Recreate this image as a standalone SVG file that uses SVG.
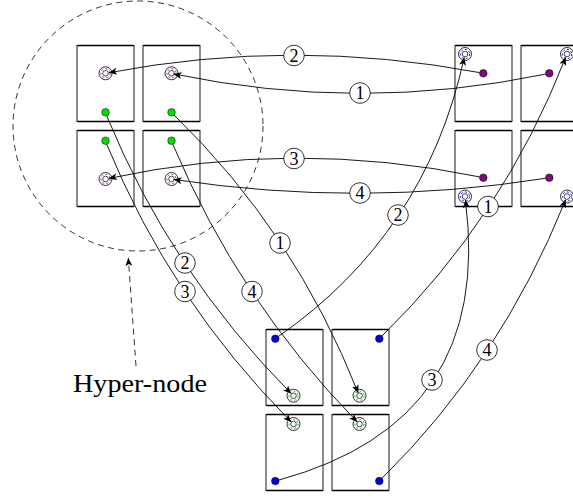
<svg xmlns="http://www.w3.org/2000/svg" width="573" height="498" viewBox="0 0 573 498">
<defs>
<style>
.box{fill:#fff;stroke:#000;stroke-width:0.9}
.edge{fill:none;stroke:#000;stroke-width:1.7;stroke-linecap:round}
.outer{fill:#fff;stroke:#000;stroke-width:0.8}
.inner{fill:#fff;stroke:#000;stroke-width:0.7}
.rv{fill:none;stroke:#a020a0;stroke-width:1;stroke-dasharray:2 2.2}
.rb{fill:none;stroke:#0000ff;stroke-width:1;stroke-dasharray:2 2.2}
.rg{fill:none;stroke:#00d000;stroke-width:1;stroke-dasharray:2 2.2}
.dg{fill:#00dd00;stroke:#000;stroke-width:0.5}
.dv{fill:#7a0a7a;stroke:#000;stroke-width:0.5}
.db{fill:#0000dd;stroke:#000;stroke-width:0.5}
.con{fill:none;stroke:#000;stroke-width:0.9;marker-end:url(#ah)}
.lbl circle{fill:#fff;stroke:#000;stroke-width:0.8}
.lbl text{font-family:"Liberation Serif","DejaVu Serif",serif;font-size:18px;text-anchor:middle}
.dash{fill:none;stroke:#000;stroke-width:0.8;stroke-dasharray:6 4.5}
</style>
<marker id="ah" markerUnits="userSpaceOnUse" markerWidth="10" markerHeight="8" refX="8" refY="3.5" orient="auto">
<path d="M0,0 L8,3.5 L0,7 L2,3.5 z" fill="#000"/>
</marker>
<g id="tgt"><circle class="outer" r="6.5"/><circle class="inner" r="2.8"/></g>
</defs>

<!-- hyper-node outline -->
<g id="hypernode">
<circle class="dash" cx="138" cy="126" r="125"/>
<path class="dash" d="M136,366 L128.3,258" marker-end="url(#ah)"/>
<text x="73" y="392" font-family="'Liberation Serif','DejaVu Serif',serif" font-size="25" textLength="134" lengthAdjust="spacingAndGlyphs">Hyper-node</text>
</g>

<!-- top-left cluster -->
<g id="tl1">
<rect class="box" x="77" y="45.5" width="57" height="76"/><path class="edge" d="M78,45.5H133M78,121.5H133"/>
<use href="#tgt" x="105.5" y="73.3"/><circle class="rv" cx="105.5" cy="73.3" r="4.6"/>
<circle class="dg" cx="105.5" cy="112.3" r="3.8"/>
</g>
<g id="tl2">
<rect class="box" x="143" y="45.5" width="57" height="76"/><path class="edge" d="M144,45.5H199M144,121.5H199"/>
<use href="#tgt" x="171.5" y="73.3"/><circle class="rv" cx="171.5" cy="73.3" r="4.6"/>
<circle class="dg" cx="171.5" cy="112.3" r="3.8"/>
</g>
<g id="tl3">
<rect class="box" x="77" y="130.5" width="57" height="76"/><path class="edge" d="M78,130.5H133M78,206.5H133"/>
<use href="#tgt" x="105.5" y="179"/><circle class="rv" cx="105.5" cy="179" r="4.6"/>
<circle class="dg" cx="105.5" cy="140.7" r="3.8"/>
</g>
<g id="tl4">
<rect class="box" x="143" y="130.5" width="57" height="76"/><path class="edge" d="M144,130.5H199M144,206.5H199"/>
<use href="#tgt" x="171.5" y="179"/><circle class="rv" cx="171.5" cy="179" r="4.6"/>
<circle class="dg" cx="171.5" cy="140.7" r="3.8"/>
</g>

<!-- top-right cluster -->
<g id="tr1">
<rect class="box" x="455" y="45.5" width="57" height="76"/><path class="edge" d="M456,45.5H511M456,121.5H511"/>
<use href="#tgt" x="465" y="54"/><circle class="rb" cx="465" cy="54" r="4.6"/>
<circle class="dv" cx="483.3" cy="73.3" r="3.8"/>
</g>
<g id="tr2">
<rect class="box" x="521" y="45.5" width="57" height="76"/><path class="edge" d="M522,45.5H577M522,121.5H577"/>
<use href="#tgt" x="567" y="54"/><circle class="rb" cx="567" cy="54" r="4.6"/>
<circle class="dv" cx="549.3" cy="73.3" r="3.8"/>
</g>
<g id="tr3">
<rect class="box" x="455" y="130.5" width="57" height="76"/><path class="edge" d="M456,130.5H511M456,206.5H511"/>
<use href="#tgt" x="465" y="196.5"/><circle class="rb" cx="465" cy="196.5" r="4.6"/>
<circle class="dv" cx="483.3" cy="177.7" r="3.8"/>
</g>
<g id="tr4">
<rect class="box" x="521" y="130.5" width="57" height="76"/><path class="edge" d="M522,130.5H577M522,206.5H577"/>
<use href="#tgt" x="567" y="196.5"/><circle class="rb" cx="567" cy="196.5" r="4.6"/>
<circle class="dv" cx="549.3" cy="177.7" r="3.8"/>
</g>

<!-- bottom cluster -->
<g id="b1">
<rect class="box" x="266" y="329.5" width="57" height="76"/><path class="edge" d="M267,329.5H322M267,405.5H322"/>
<use href="#tgt" x="293.5" y="395.7"/><circle class="rg" cx="293.5" cy="395.7" r="4.6"/>
<circle class="db" cx="275.3" cy="338.7" r="3.8"/>
</g>
<g id="b2">
<rect class="box" x="332" y="329.5" width="57" height="76"/><path class="edge" d="M333,329.5H388M333,405.5H388"/>
<use href="#tgt" x="359.5" y="395.7"/><circle class="rg" cx="359.5" cy="395.7" r="4.6"/>
<circle class="db" cx="379.3" cy="338.7" r="3.8"/>
</g>
<g id="b3">
<rect class="box" x="266" y="414.5" width="57" height="76"/><path class="edge" d="M267,414.5H322M267,490.5H322"/>
<use href="#tgt" x="293.5" y="424"/><circle class="rg" cx="293.5" cy="424" r="4.6"/>
<circle class="db" cx="275.3" cy="481" r="3.8"/>
</g>
<g id="b4">
<rect class="box" x="332" y="414.5" width="57" height="76"/><path class="edge" d="M333,414.5H388M333,490.5H388"/>
<use href="#tgt" x="359.5" y="424"/><circle class="rg" cx="359.5" cy="424" r="4.6"/>
<circle class="db" cx="379.3" cy="481" r="3.8"/>
</g>

<!-- connectors -->
<g id="connectors">
<path class="con" d="M479.6,72.6 Q293.35,37.7 108.9,72.7"/>
<path class="con" d="M545.6,74.1 Q360,112.7 173.6,73.9"/>
<path class="con" d="M479.6,176.9 Q293.35,138.65 108.9,178.4"/>
<path class="con" d="M545.5,178.3 Q360,207.65 173.7,179.45"/>
<path class="con" d="M106.7,115.8 Q170.7,272 291.2,393.6"/>
<path class="con" d="M106.7,144.2 Q170.7,300.65 291.2,421.9"/>
<path class="con" d="M174,115 Q294.7,232 358.2,392.9"/>
<path class="con" d="M172.8,144.2 Q238.7,300.65 357.2,421.9"/>
<path class="con" d="M278.4,336.5 Q425.85,233.65 464.25,57.4"/>
<path class="con" d="M382,336 Q503.6,217 565.7,57.3"/>
<path class="con" d="M279,480 Q493.85,421.25 465.4,200"/>
<path class="con" d="M382,478.3 Q500.85,361.25 565.7,199.7"/>
</g>

<!-- labels -->
<g id="labels" class="lbl">
<circle cx="294" cy="55.5" r="10.3"/><text x="294" y="61.8">2</text>
<circle cx="360" cy="93" r="10.3"/><text x="360" y="99.3">1</text>
<circle cx="294" cy="158.5" r="10.3"/><text x="294" y="164.8">3</text>
<circle cx="360" cy="193" r="10.3"/><text x="360" y="199.3">4</text>
<circle cx="398" cy="215" r="10.3"/><text x="398" y="221.3">2</text>
<circle cx="488" cy="206.5" r="10.3"/><text x="488" y="212.8">1</text>
<circle cx="280" cy="243" r="10.3"/><text x="280" y="249.3">1</text>
<circle cx="185" cy="263" r="10.3"/><text x="185" y="269.3">2</text>
<circle cx="185" cy="291.5" r="10.3"/><text x="185" y="297.8">3</text>
<circle cx="252" cy="291.5" r="10.3"/><text x="252" y="297.8">4</text>
<circle cx="432" cy="380" r="10.3"/><text x="432" y="386.3">3</text>
<circle cx="487" cy="350" r="10.3"/><text x="487" y="356.3">4</text>
</g>
</svg>
